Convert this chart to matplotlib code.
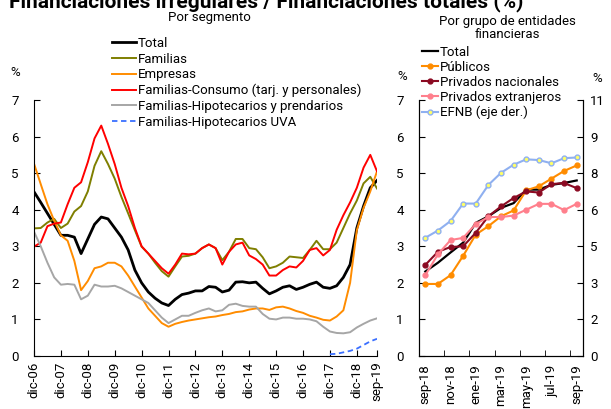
import numpy as np
import matplotlib
matplotlib.use("Agg")
import matplotlib.pyplot as plt

plt.rcParams['font.family'] = ['Roboto', 'DejaVu Sans']
plt.rcParams['font.size'] = 9.5

# ---- left panel: monthly series read quarterly, dic-06 .. sep-19
meses = np.arange(0, 154, 3)
total = [4.49, 4.2, 3.9, 3.6, 3.3, 3.3, 3.25, 2.8, 3.2, 3.6, 3.8, 3.75, 3.5, 3.25, 2.9, 2.35, 2.0, 1.75,
         1.58, 1.45, 1.38, 1.55, 1.68, 1.72, 1.78, 1.78, 1.9, 1.88, 1.75, 1.8, 2.02, 2.03, 2.0, 2.02, 1.85,
         1.7, 1.78, 1.88, 1.92, 1.82, 1.88, 1.96, 2.02, 1.88, 1.85, 1.92, 2.15, 2.5, 3.5, 4.1, 4.6, 4.8]
familias = [3.49, 3.5, 3.65, 3.75, 3.5, 3.62, 3.95, 4.1, 4.5, 5.2, 5.6, 5.25, 4.85, 4.35, 3.9, 3.44, 2.99,
            2.8, 2.55, 2.32, 2.17, 2.45, 2.72, 2.74, 2.8, 2.95, 3.05, 2.95, 2.62, 2.85, 3.2, 3.2, 2.95, 2.92,
            2.7, 2.4, 2.45, 2.55, 2.72, 2.7, 2.68, 2.9, 3.15, 2.92, 2.92, 3.1, 3.5, 3.9, 4.25, 4.72, 4.9, 4.58]
empresas = [5.26, 4.7, 4.15, 3.7, 3.3, 3.15, 2.6, 1.8, 2.05, 2.4, 2.45, 2.55, 2.55, 2.45, 2.2, 1.9, 1.6,
            1.3, 1.1, 0.9, 0.8, 0.88, 0.93, 0.97, 1.0, 1.03, 1.06, 1.08, 1.12, 1.15, 1.2, 1.22, 1.27, 1.3,
            1.3, 1.26, 1.33, 1.35, 1.3, 1.23, 1.18, 1.1, 1.05, 0.99, 0.97, 1.08, 1.25, 2.0, 3.44, 4.05, 4.5, 5.05]
consumo = [2.99, 3.1, 3.55, 3.62, 3.65, 4.15, 4.6, 4.75, 5.3, 5.95, 6.3, 5.8, 5.25, 4.6, 4.1, 3.5, 3.0,
           2.8, 2.6, 2.4, 2.25, 2.5, 2.8, 2.78, 2.8, 2.95, 3.05, 2.95, 2.5, 2.85, 3.05, 3.1, 2.75, 2.65,
           2.5, 2.2, 2.2, 2.35, 2.45, 2.42, 2.6, 2.9, 2.95, 2.75, 2.9, 3.45, 3.85, 4.2, 4.6, 5.15, 5.5, 5.05]
hipotecarios = [3.4, 3.0, 2.55, 2.15, 1.95, 1.97, 1.95, 1.55, 1.65, 1.95, 1.9, 1.9, 1.92, 1.85, 1.75, 1.65,
                1.55, 1.45, 1.25, 1.05, 0.9, 1.0, 1.1, 1.1, 1.18, 1.25, 1.3, 1.22, 1.25, 1.4, 1.43, 1.37,
                1.35, 1.35, 1.15, 1.02, 1.0, 1.05, 1.05, 1.02, 1.02, 1.0, 0.95, 0.8, 0.67, 0.63, 0.62, 0.65,
                0.78, 0.88, 0.97, 1.03]
meses_uva = np.arange(132, 154, 3)
uva = [0.05, 0.06, 0.1, 0.14, 0.2, 0.3, 0.4, 0.47]
ticks_izq = list(range(0, 145, 12)) + [153]
labels_izq = ['dic-%02d' % a for a in range(6, 19)] + ['sep-19']

# ---- right panel: sep-18 .. sep-19
meses_der = ['sep-18', 'oct-18', 'nov-18', 'dic-18', 'ene-19', 'feb-19', 'mar-19',
             'abr-19', 'may-19', 'jun-19', 'jul-19', 'ago-19', 'sep-19']
total_g = [2.31, 2.55, 2.83, 3.1, 3.64, 3.82, 4.05, 4.18, 4.55, 4.55, 4.68, 4.73, 4.8]
publicos = [1.97, 1.97, 2.21, 2.74, 3.32, 3.55, 3.82, 3.98, 4.53, 4.64, 4.85, 5.06, 5.21]
priv_nac = [2.49, 2.85, 2.98, 3.0, 3.37, 3.82, 4.09, 4.32, 4.5, 4.47, 4.7, 4.73, 4.59]
priv_ext = [2.21, 2.78, 3.17, 3.23, 3.61, 3.8, 3.8, 3.84, 4.0, 4.16, 4.16, 3.99, 4.16]
efnb = [5.08, 5.39, 5.8, 6.55, 6.55, 7.35, 7.87, 8.22, 8.45, 8.42, 8.28, 8.5, 8.53]

fig = plt.figure(figsize=(6.11, 4.09), dpi=100)
ax1 = fig.add_axes([34/611, 1-356/409, 343/611, 256/409])
ax2 = fig.add_axes([419/611, 1-356/409, 164/611, 256/409])

ax1.plot(meses, total, color='black', lw=2, label='Total')
ax1.plot(meses, familias, color='#7f7f00', lw=1.4, label='Familias')
ax1.plot(meses, empresas, color='#ff8c00', lw=1.4, label='Empresas')
ax1.plot(meses, consumo, color='#ff0000', lw=1.4, label='Familias-Consumo (tarj. y personales)')
ax1.plot(meses, hipotecarios, color='#a6a6a6', lw=1.4, label='Familias-Hipotecarios y prendarios')
ax1.plot(meses_uva, uva, color='#3a6fff', lw=1.3, ls=(0, (3, 2)), label='Familias-Hipotecarios UVA')
ax1.set_xlim(0, 153)
ax1.set_ylim(0, 7)
ax1.set_yticks(range(8))
ax1.set_xticks(ticks_izq)
ax1.set_xticklabels(labels_izq, rotation=90)
for s in ['top', 'right']:
    ax1.spines[s].set_visible(False)
ax1.tick_params(axis='y', direction='in', length=4, pad=11)
ax1.tick_params(axis='x', direction='in', length=4, pad=4)
ax1.legend(loc='upper left', bbox_to_anchor=(112/611, 1-37/409), bbox_transform=fig.transFigure,
           frameon=False, borderpad=0, borderaxespad=0, handlelength=1.8, handletextpad=0.15,
           labelspacing=0.2, fontsize=9.5)

x = np.arange(len(meses_der))
ax2.plot(x, total_g, color='black', lw=1.6, label='Total')
ax2.plot(x, publicos, color='#ff8c00', lw=1.5, marker='o', ms=3.5, label='Públicos')
ax2.plot(x, priv_nac, color='#8b0a22', lw=1.5, marker='o', ms=3.5, label='Privados nacionales')
ax2.plot(x, priv_ext, color='#ff7f8c', lw=1.5, marker='o', ms=3.5, label='Privados extranjeros')
ax2.set_xlim(-0.5, 12.5)
ax2.set_ylim(0, 7)
ax2.set_yticks(range(8))
ax2.set_xticks(x[::2])
ax2.set_xticklabels(meses_der[::2], rotation=90)
ax2.set_xticks(np.arange(1.5, 12, 2), minor=True)
ax2.spines['top'].set_visible(False)
ax2.tick_params(axis='y', direction='in', length=4, pad=11)
ax2.tick_params(axis='x', which='major', length=0, pad=6)
ax2.tick_params(axis='x', which='minor', direction='in', length=4)

ax3 = ax2.twinx()
ax3.plot(x, efnb, color='#8fb0f0', lw=1.5, marker='o', ms=3.5, mfc='#ffff66', mec='#8fb0f0',
         label='EFNB (eje der.)')
ax3.set_ylim(0, 11)
ax3.set_yticks(np.arange(8) * 11 / 7)
ax3.set_yticklabels(['%.0f' % v for v in np.arange(8) * 11 / 7])
ax3.spines['top'].set_visible(False)
ax3.tick_params(axis='y', direction='in', length=4, pad=5)

h2, l2 = ax2.get_legend_handles_labels()
h3, l3 = ax3.get_legend_handles_labels()
ax3.legend(h2 + h3, l2 + l3, loc='upper left', bbox_to_anchor=(422/611, 1-46/409),
           bbox_transform=fig.transFigure, frameon=False, borderpad=0, borderaxespad=0,
           handlelength=1.2, handletextpad=0.15, labelspacing=0.15, fontsize=9.5)

fig.text(15/611, 1-72/409, '%', ha='center', va='center')
fig.text(402/611, 1-77/409, '%', ha='center', va='center')
fig.text(597/611, 1-78/409, '%', ha='center', va='center')
fig.text(209/611, 1-18/409, 'Por segmento', ha='center', va='center')
fig.text(507/611, 1-28/409, 'Por grupo de entidades\nfinancieras', ha='center', va='center',
         linespacing=1.1)
# title is cut off at the top edge, as in the source image
fig.text(266/611, 1-7/409, 'Financiaciones irregulares / Financiaciones totales (%)',
         ha='center', va='baseline', fontsize=15, fontweight='bold')

fig.savefig('out.png', dpi=100)
